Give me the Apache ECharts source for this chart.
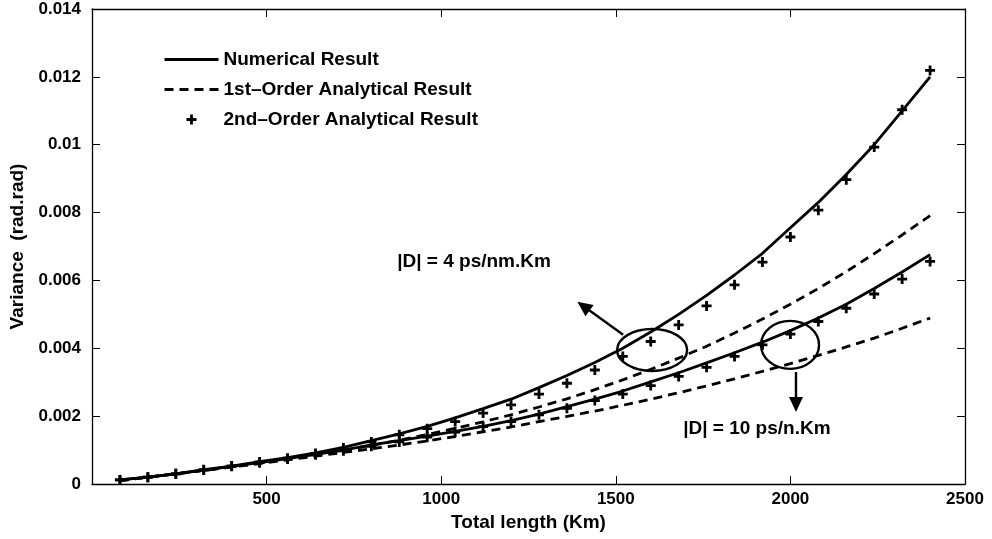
<!DOCTYPE html>
<html>
<head>
<meta charset="utf-8">
<script src="https://cdn.jsdelivr.net/npm/echarts@6/dist/echarts.min.js"></script>
<style>html,body{margin:0;padding:0;background:#fff}#c{width:992px;height:539px}</style>
</head>
<body>
<div id="c"></div>
<script>
// ---- data ----
const lengthKm = [80,160,240,320,400,480,560,640,720,800,880,960,1040,1120,1200,1280,1360,1440,1520,1600,1680,1760,1840,1920,2000,2080,2160,2240,2320,2400];
const numD4 = [0.00012,0.0002,0.0003,0.00042,0.00053,0.00066,0.00078,0.00092,0.00108,0.00128,0.00148,0.0017,0.00195,0.00222,0.0025,0.00284,0.0032,0.00358,0.004,0.00448,0.005,0.00556,0.00616,0.0068,0.00755,0.0083,0.00912,0.01,0.0110,0.0120];
const first4 = [0.0001,0.0002,0.0003,0.0004,0.0005,0.00062,0.00073,0.00085,0.00099,0.00114,0.00129,0.00146,0.00164,0.00183,0.00204,0.00227,0.00251,0.00278,0.00307,0.00338,0.00371,0.00406,0.00445,0.00486,0.0053,0.00576,0.00626,0.00679,0.00734,0.00791];
const second4 = [0.00012,0.0002,0.0003,0.00042,0.00053,0.00065,0.00076,0.0009,0.00106,0.00124,0.00145,0.00163,0.00184,0.00209,0.00233,0.00265,0.00297,0.00336,0.00376,0.0042,0.00469,0.00525,0.00587,0.00654,0.00728,0.00807,0.00897,0.00993,0.01103,0.01219];
const numD10 = [0.00012,0.0002,0.0003,0.00041,0.00052,0.00063,0.00075,0.00087,0.001,0.00115,0.00128,0.00141,0.00155,0.0017,0.00187,0.00206,0.00228,0.0025,0.00274,0.00301,0.00328,0.00357,0.00387,0.00418,0.00452,0.00489,0.0053,0.00576,0.00625,0.00676];
const first10 = [0.0001,0.0002,0.0003,0.0004,0.0005,0.0006,0.00071,0.00082,0.00093,0.00104,0.00115,0.00127,0.0014,0.00154,0.00168,0.00184,0.00199,0.00215,0.00232,0.0025,0.00269,0.00289,0.0031,0.00332,0.00355,0.00379,0.00404,0.0043,0.00459,0.00489];
const second10 = [0.00012,0.0002,0.0003,0.00041,0.00052,0.00063,0.00074,0.00086,0.00098,0.00111,0.00124,0.00138,0.00153,0.00169,0.00184,0.00204,0.00223,0.00246,0.00265,0.0029,0.00317,0.00344,0.00376,0.0041,0.00442,0.00479,0.00518,0.0056,0.00604,0.00656];
const xTicks = [0,500,1000,1500,2000,2500];
const yTicks = [0,0.002,0.004,0.006,0.008,0.01,0.012,0.014];
const seriesNames = ['Numerical Result','1st\u2013Order Analytical Result','2nd\u2013Order Analytical Result'];
const labelD4 = '|D| = 4 ps/nm.Km';
const labelD10 = '|D| = 10 ps/n.Km';
// annotation anchors in data units
const ellipse1 = [1604, 0.00395], ellipse2 = [1999, 0.0041];
const arrow1 = [[1521, 0.0044],[1390, 0.00537]];
const arrow2 = [[2016, 0.0033],[2016, 0.00212]];
const text1At = [874, 0.00655], text2At = [1693, 0.00162];

const FONT = 'Liberation Sans, Arial, sans-serif';
const pairs = a => lengthKm.map((x,i)=>[x,a[i]]);
const PLUS = 'path://M3.6,0L6.4,0L6.4,3.6L10,3.6L10,6.4L6.4,6.4L6.4,10L3.6,10L3.6,6.4L0,6.4L0,3.6L3.6,3.6Z';
const solid = {color:'#000', width:2.8, type:'solid'};
const dashed = {color:'#000', width:2.8, type:[9,6]};

const chart = echarts.init(document.getElementById('c'), null, {renderer:'canvas'});
const axisText = {color:'#000', fontFamily:FONT, fontWeight:'bold', fontSize:17};
const titleText = {color:'#000', fontFamily:FONT, fontWeight:'bold', fontSize:19};
chart.setOption({
  animation:false,
  backgroundColor:'#fff',
  grid:{left:92, right:27, top:9, bottom:55, containLabel:false},
  legend:{
    orient:'vertical', left:158, top:45, itemWidth:54, itemHeight:10, itemGap:11,
    lineStyle:{width:3},
    data:[
      {name:seriesNames[0], itemStyle:{opacity:0}},
      {name:seriesNames[1], itemStyle:{opacity:0}},
      {name:seriesNames[2], icon:PLUS}
    ],
    textStyle:{color:'#000', fontFamily:FONT, fontWeight:'bold', fontSize:19}
  },
  xAxis:[{
    type:'value', min:xTicks[0], max:xTicks[xTicks.length-1], interval:500,
    name:'Total length (Km)', nameLocation:'middle', nameGap:28,
    nameTextStyle:titleText,
    axisLine:{show:true, onZero:false, lineStyle:{color:'#000', width:1.3}},
    axisTick:{show:true, inside:true, length:8, lineStyle:{color:'#000'}},
    axisLabel:{...axisText, margin:7, formatter:v=> v===0 ? '' : String(v)},
    splitLine:{show:false}
  },{
    type:'value', position:'top', min:xTicks[0], max:xTicks[xTicks.length-1], interval:500,
    axisLine:{show:true, onZero:false, lineStyle:{color:'#000', width:1.3}},
    axisTick:{show:true, inside:true, length:8, lineStyle:{color:'#000'}},
    axisLabel:{show:false}, splitLine:{show:false}
  }],
  yAxis:[{
    type:'value', min:yTicks[0], max:yTicks[yTicks.length-1], interval:0.002,
    name:'Variance  (rad.rad)', nameLocation:'middle', nameGap:57,
    nameTextStyle:titleText,
    axisLine:{show:true, onZero:false, lineStyle:{color:'#000', width:1.3}},
    axisTick:{show:true, inside:true, length:8, lineStyle:{color:'#000'}},
    axisLabel:{...axisText, margin:11, formatter:v=> String(+v.toFixed(3))},
    splitLine:{show:false}
  },{
    type:'value', position:'right', min:yTicks[0], max:yTicks[yTicks.length-1], interval:0.002,
    axisLine:{show:true, onZero:false, lineStyle:{color:'#000', width:1.3}},
    axisTick:{show:true, inside:true, length:8, lineStyle:{color:'#000'}},
    axisLabel:{show:false}, splitLine:{show:false}
  }],
  series:[
    {name:seriesNames[0], type:'line', data:pairs(numD4), showSymbol:false, symbol:'none', lineStyle:solid, itemStyle:{color:'#000'}, z:3},
    {name:seriesNames[0], type:'line', data:pairs(numD10), showSymbol:false, symbol:'none', lineStyle:solid, itemStyle:{color:'#000'}, z:3},
    {name:seriesNames[1], type:'line', data:pairs(first4), showSymbol:false, symbol:'none', lineStyle:dashed, itemStyle:{color:'#000'}, z:3},
    {name:seriesNames[1], type:'line', data:pairs(first10), showSymbol:false, symbol:'none', lineStyle:dashed, itemStyle:{color:'#000'}, z:3},
    {name:seriesNames[2], type:'scatter', data:pairs(second4), symbol:PLUS, symbolSize:10, itemStyle:{color:'#000', opacity:1}, z:4},
    {name:seriesNames[2], type:'scatter', data:pairs(second10), symbol:PLUS, symbolSize:10, itemStyle:{color:'#000', opacity:1}, z:4}
  ]
});

function px(p){ return chart.convertToPixel({gridIndex:0}, p); }
function arrow(a, b, head, half){
  const A = px(a), B = px(b);
  const dx = B[0]-A[0], dy = B[1]-A[1], L = Math.hypot(dx,dy), ux = dx/L, uy = dy/L;
  const bx = B[0]-ux*head, by = B[1]-uy*head;
  return [
    {type:'line', shape:{x1:A[0], y1:A[1], x2:bx, y2:by}, style:{stroke:'#000', lineWidth:2.4}, z:10},
    {type:'polygon', shape:{points:[[B[0],B[1]],[bx-uy*half, by+ux*half],[bx+uy*half, by-ux*half]]}, style:{fill:'#000'}, z:10}
  ];
}
const e1 = px(ellipse1), e2 = px(ellipse2), t1 = px(text1At), t2 = px(text2At);
chart.setOption({graphic:[
  {type:'ellipse', shape:{cx:e1[0], cy:e1[1], rx:35, ry:21}, style:{fill:'none', stroke:'#000', lineWidth:2.4}, z:10},
  {type:'ellipse', shape:{cx:e2[0], cy:e2[1], rx:29, ry:24}, style:{fill:'none', stroke:'#000', lineWidth:2.4}, z:10},
  ...arrow(arrow1[0], arrow1[1], 15, 7),
  ...arrow(arrow2[0], arrow2[1], 15, 7),
  {type:'text', x:t1[0], y:t1[1], style:{text:labelD4, fill:'#000', font:'bold 19px '+FONT, textAlign:'left', textVerticalAlign:'middle'}, z:10},
  {type:'text', x:t2[0], y:t2[1], style:{text:labelD10, fill:'#000', font:'bold 19px '+FONT, textAlign:'left', textVerticalAlign:'middle'}, z:10}
]});
</script>
</body>
</html>
